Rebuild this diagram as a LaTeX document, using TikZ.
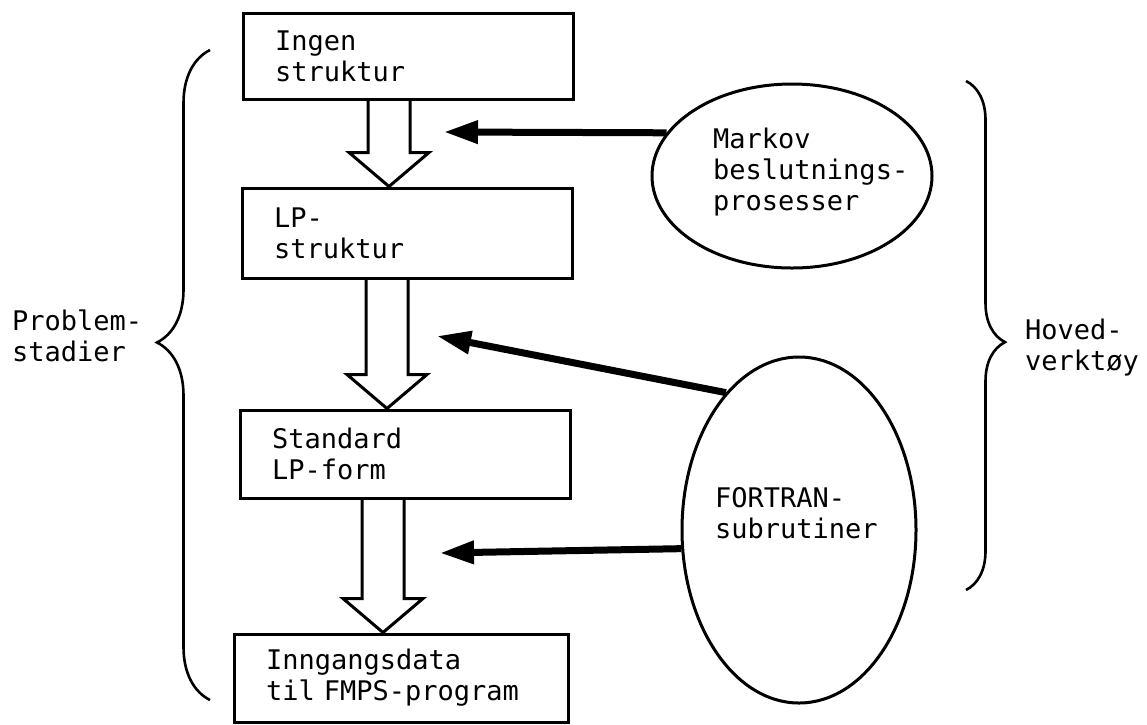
\documentclass[tikz,border=0pt]{standalone}
\usepackage{fontspec}
\newfontfamily\tw{DejaVu Sans Mono}
\usetikzlibrary{positioning,arrows.meta,shapes.geometric,decorations.pathreplacing,calc}
\tikzset{
  stage/.style={draw, line width=3pt, rectangle, inner xsep=32pt, inner ysep=0pt, text width=266pt, align=left, minimum height=88pt},
  tool/.style={draw, line width=3pt, ellipse, inner sep=0pt},
  word/.style={align=left, inner sep=0pt, anchor=west},
  feed/.style={line width=7pt, -{Triangle[length=34pt,width=22pt]}},
  flow/.style={line width=3pt, line join=miter},
  curly/.style={line width=2.6pt, decorate}
}
\begin{document}
\begin{tikzpicture}[x=1pt, y=-1pt, font=\tw\fontsize{27}{31}\selectfont]
  \useasboundingbox (0,0) rectangle (1147,724);
  % problem stages
  \node[stage, minimum height=86pt] (ingen) at (408,56) {Ingen\\struktur};
  \node[stage, minimum height=90pt] (lp) at (407,233) {LP-\\struktur};
  \node[stage] (std) at (405,454) {Standard\\LP-form};
  \node[stage, text width=270pt] (inn) at (401,678) {Inngangsdata\\til FMPS-program};
  \foreach \a/\b/\c in {ingen/lp/389, lp/std/387, std/inn/383}
    \draw[flow] let \p1=(\a.south), \p2=(\b.north) in
      (\c-21,\y1) -- (\c-21,\y2+34pt) -- (\c-40,\y2+34pt) -- (\c,\y2)
      -- (\c+40,\y2+34pt) -- (\c+21,\y2+34pt) -- (\c+21,\y1);
  % tools
  \node[tool, minimum width=280pt, minimum height=184pt] (markov) at (792,176) {};
  \node[word] (markovtxt) at (713,172) {Markov\\beslutnings-\\prosesser};
  \node[tool, minimum width=234pt, minimum height=346pt] (fortran) at (799,530) {};
  \node[word] (fortrantxt) at (715,513) {FORTRAN-\\subrutiner};
  \coordinate (tipA) at (444,132);
  \coordinate (tipB) at (437,336);
  \coordinate (tipC) at (440,553);
  \draw[feed] (markov.161) -- (tipA);
  \draw[feed] (fortran.118) -- (tipB);
  \draw[feed] (fortran.189) -- (tipC);
  % braces
  \draw[curly, decoration={brace, amplitude=53pt, aspect=0.55}] (210,700) -- (210,50);
  \node[word] (problem) at (12,336) {Problem-\\stadier};
  \draw[curly, decoration={brace, amplitude=39pt, aspect=0.513}] (966,81) -- (966,590);
  \node[word] (hoved) at (1025,348) {Hoved-\\verktøy};
\end{tikzpicture}
\end{document}
